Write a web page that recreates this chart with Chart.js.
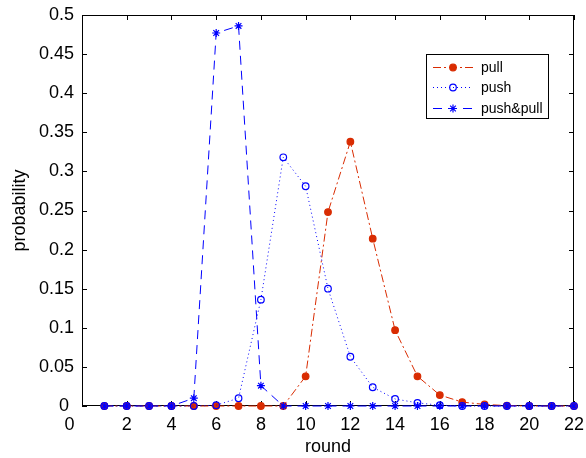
<!DOCTYPE html>
<html>
<head>
<meta charset="utf-8">
<script src="https://cdn.jsdelivr.net/npm/chart.js@4.4.1/dist/chart.umd.min.js"></script>
<style>
html,body{margin:0;padding:0;background:#fff;}
#wrap{width:586px;height:458px;position:relative;}
</style>
</head>
<body>
<div id="wrap"><canvas id="c" width="586" height="458"></canvas></div>
<script>
const rounds = [1,2,3,4,5,6,7,8,9,10,11,12,13,14,15,16,17,18,19,20,21,22];
const pullValues = [0,0,0,0,0,0,0,0,0,0.038,0.248,0.338,0.214,0.097,0.038,0.014,0.005,0.002,0.0005,0,0,0];
const pushValues = [0,0,0,0,0,0.001,0.010,0.136,0.318,0.281,0.150,0.063,0.024,0.009,0.004,0.001,0,0,0,0,0,0];
const pushPullValues = [0,0,0,0,0.010,0.477,0.486,0.026,0,0,0,0,0,0,0,0,0,0,0,0,0,0];
const seriesNames = ['pull','push','push&pull'];
const xTickValues = [0,2,4,6,8,10,12,14,16,18,20,22];
const yTickValues = [0,0.05,0.1,0.15,0.2,0.25,0.3,0.35,0.4,0.45,0.5];

const RED = '#d92c02';
const BLUE = '#0000ff';
const FONT = '"Liberation Sans", Arial, Helvetica, sans-serif';

function pts(vals){ return rounds.map((r,i)=>({x:r,y:vals[i]})); }

const styles = [
  {color:RED, dash:[8,3,2,3], pointStyle:'circle', radius:3.3, fill:RED},
  {color:BLUE, dash:[1,3], pointStyle:'circle', radius:3.3, fill:'rgba(0,0,0,0)'},
  {color:BLUE, dash:[9,6], pointStyle:'star', radius:4, fill:BLUE}
];
const seriesData = [pullValues, pushValues, pushPullValues];

const datasets = seriesData.map((vals, i) => ({
  label: seriesNames[i],
  data: pts(vals),
  borderColor: styles[i].color,
  backgroundColor: styles[i].fill,
  borderWidth: 1,
  borderDash: styles[i].dash,
  pointStyle: styles[i].pointStyle,
  pointRadius: styles[i].radius,
  pointBorderColor: styles[i].color,
  pointBackgroundColor: styles[i].fill,
  pointBorderWidth: 1.2,
  tension: 0,
  clip: false,
  order: 3 - i
}));

const frame = {
  id: 'frame',
  beforeDatasetsDraw(chart){
    const {ctx, chartArea:a, scales} = chart;
    ctx.save();
    ctx.strokeStyle = '#000';
    ctx.lineWidth = 1;
    ctx.setLineDash([]);
    ctx.strokeRect(Math.round(a.left)+0.5, Math.round(a.top)+0.5, Math.round(a.right-a.left)-1, Math.round(a.bottom-a.top)-1);
    const L = 5;
    ctx.beginPath();
    scales.x.ticks.forEach(t => {
      const px = Math.round(scales.x.getPixelForValue(t.value)) + 0.5;
      ctx.moveTo(px, a.bottom); ctx.lineTo(px, a.bottom - L);
      ctx.moveTo(px, a.top); ctx.lineTo(px, a.top + L);
    });
    scales.y.ticks.forEach(t => {
      const py = Math.round(scales.y.getPixelForValue(t.value)) + 0.5;
      ctx.moveTo(a.left, py); ctx.lineTo(a.left + L, py);
      ctx.moveTo(a.right, py); ctx.lineTo(a.right - L, py);
    });
    ctx.stroke();
    ctx.restore();
  },
  afterDatasetsDraw(chart){
    const ctx = chart.ctx;
    const bx = 426, by = 54, bw = 122, bh = 64;
    ctx.save();
    ctx.fillStyle = '#fff';
    ctx.fillRect(bx, by, bw, bh);
    ctx.strokeStyle = '#000';
    ctx.lineWidth = 1;
    ctx.setLineDash([]);
    ctx.strokeRect(bx+0.5, by+0.5, bw, bh);
    const rows = [67, 87, 108];
    rows.forEach((y, i) => {
      const s = styles[i];
      ctx.strokeStyle = s.color;
      ctx.lineWidth = 1;
      ctx.setLineDash(s.dash);
      ctx.beginPath();
      ctx.moveTo(433, y+0.5); ctx.lineTo(473, y+0.5);
      ctx.stroke();
      ctx.setLineDash([]);
      ctx.fillStyle = s.fill;
      ctx.strokeStyle = s.color;
      ctx.lineWidth = 1.2;
      Chart.helpers.drawPoint(ctx, {pointStyle: s.pointStyle, radius: s.radius, rotation: 0, borderWidth: 1.2}, 453, y+0.5);
      ctx.fillStyle = '#000';
      ctx.font = '14px ' + FONT;
      ctx.textBaseline = 'middle';
      ctx.textAlign = 'left';
      ctx.fillText(seriesNames[i], 481, y+1);
    });
    ctx.restore();
  }
};

new Chart(document.getElementById('c'), {
  type: 'line',
  data: { datasets },
  plugins: [frame],
  options: {
    responsive: false,
    animation: false,
    devicePixelRatio: 1,
    layout: { padding: { top: 15, right: 12, left: 0, bottom: 0 } },
    plugins: { legend: { display: false }, tooltip: { enabled: false } },
    scales: {
      x: {
        type: 'linear', min: 0, max: 22,
        afterBuildTicks(s){ s.ticks = xTickValues.map(v => ({value: v})); },
        afterFit(s){ s.height = 52; s.paddingLeft = 0; s.paddingRight = 0; },
        grid: { display: false, drawTicks: false },
        border: { display: false },
        ticks: {
          color: '#000', padding: 8, maxRotation: 0, autoSkip: false,
          font: { family: FONT, size: 18 },
          callback: v => v === 0 ? '0\u00a0\u00a0\u00a0\u00a0\u00a0' : String(v)
        },
        title: { display: true, text: 'round', color: '#000', font: { family: FONT, size: 18 }, padding: { top: 0, bottom: 0 } }
      },
      y: {
        type: 'linear', min: 0, max: 0.5,
        afterBuildTicks(s){ s.ticks = yTickValues.map(v => ({value: v})); },
        afterFit(s){ s.width = 82; s.paddingTop = 0; s.paddingBottom = 0; },
        grid: { display: false, drawTicks: false },
        border: { display: false },
        ticks: {
          color: '#000', padding: 8, autoSkip: false,
          font: { family: FONT, size: 18 },
          callback: v => v === 0 ? '0\u00a0' : String(Number(v.toFixed(2)))
        },
        title: { display: true, text: 'probability', color: '#000', font: { family: FONT, size: 18 }, padding: { top: 9, bottom: 0 } }
      }
    }
  }
});
</script>
</body>
</html>
